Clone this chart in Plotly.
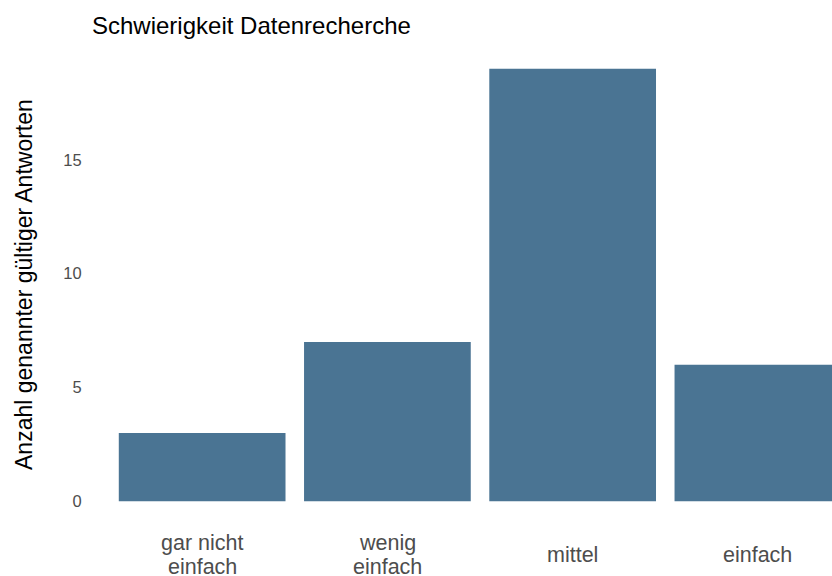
import plotly.graph_objects as go

categories = ["gar nicht\neinfach", "wenig\neinfach", "mittel", "einfach"]
counts = [3, 7, 19, 6]
y_ticks = [0, 5, 10, 15]

title_text = "Schwierigkeit Datenrecherche"
y_title = "Anzahl genannter gültiger Antworten"

bar_color = "#4A7493"
font_family = "Liberation Sans, Arial, sans-serif"
tick_gray = "#4D4D4D"

# body margin is removed in post_script, so figure pixels == page pixels
W, H = 832, 576
L, R, T, B = 91, 0, 47, 53
plot_bottom = H - B  # in figure pixels

fig = go.Figure()
fig.add_trace(go.Bar(
    x=list(range(len(categories))),
    y=counts,
    width=0.9,
    marker=dict(color=bar_color, line=dict(width=0)),
    hoverinfo="y",
))

# category labels (multi-line, vertically centred like ggplot)
line_gap = 23.3
center_px_below = 555 - plot_bottom
for i, lab in enumerate(categories):
    lines = lab.split("\n")
    n = len(lines)
    for j, ln in enumerate(lines):
        off = center_px_below + (j - (n - 1) / 2) * line_gap
        fig.add_annotation(
            x=i, xref="x", y=0, yref="paper",
            text=ln, showarrow=False,
            xanchor="center", yanchor="middle",
            yshift=-off,
            font=dict(family=font_family, size=21.5, color=tick_gray),
        )

# y axis title
fig.add_annotation(
    x=(24 - L) / (W - L - R), xref="paper", y=0.5, yref="paper",
    text=y_title, textangle=-90, showarrow=False,
    xanchor="center", yanchor="middle",
    font=dict(family=font_family, size=23, color="#000000"),
)

fig.update_layout(
    width=W, height=H,
    margin=dict(l=L, r=R, t=T, b=B, autoexpand=False),
    paper_bgcolor="white", plot_bgcolor="white",
    showlegend=False,
    hovermode=False,
    title=dict(
        text=title_text, x=92 / W, xref="container", xanchor="left",
        y=1 - 26 / H, yref="container", yanchor="middle",
        font=dict(family=font_family, size=24, color="#000000"),
    ),
    xaxis=dict(
        range=[-0.6, 3.4], showgrid=False, zeroline=False, showline=False,
        showticklabels=False, ticks="", fixedrange=True,
    ),
    yaxis=dict(
        range=[-0.95, 19.95], tickvals=y_ticks, ticktext=[str(v) for v in y_ticks],
        showgrid=False, zeroline=False, showline=False,
        ticks="outside", ticklen=5, tickcolor="rgba(0,0,0,0)",
        tickfont=dict(family=font_family, size=16.5, color=tick_gray),
        fixedrange=True,
    ),
)

fig.write_html(
    "out.html",
    config={"displayModeBar": False, "staticPlot": True},
    post_script="document.body.style.margin='0';"
                "document.documentElement.style.overflow='hidden';",
)
